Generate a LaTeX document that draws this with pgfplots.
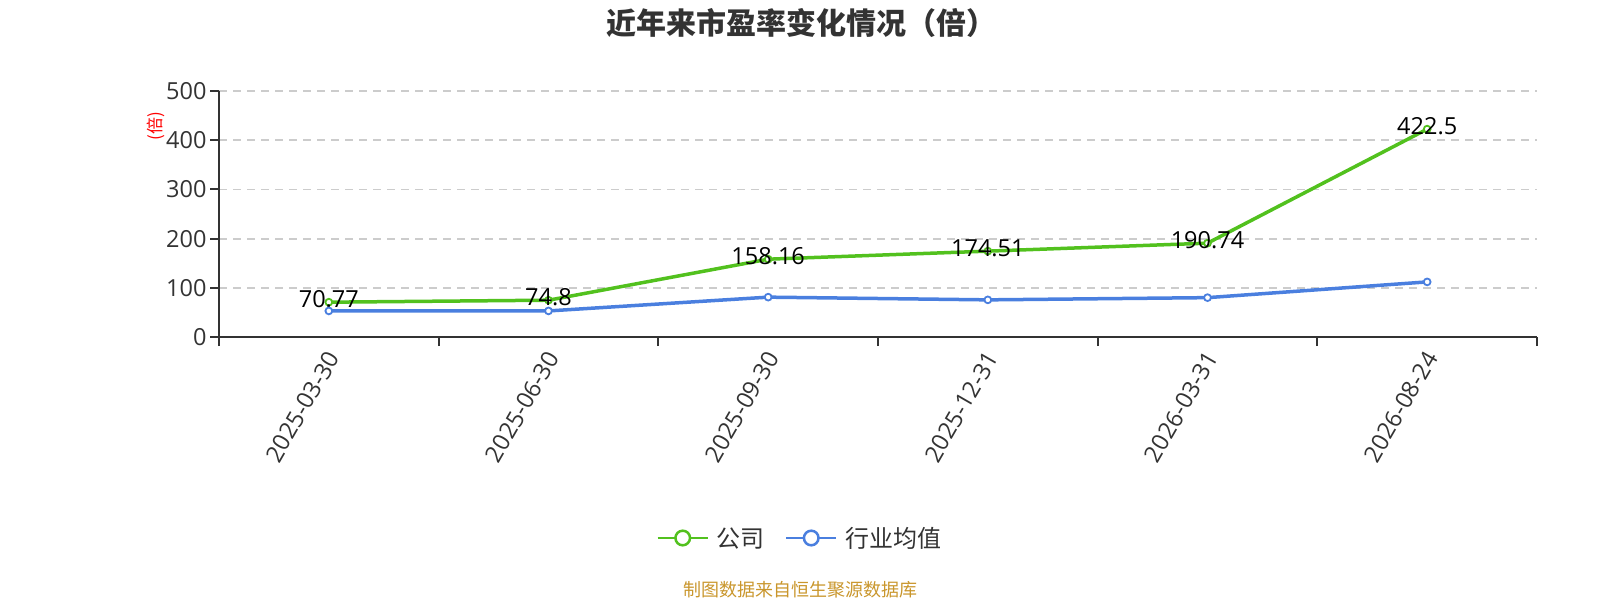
\documentclass[border=0pt]{standalone}
\usepackage{fontspec}
\setmainfont{Open Sans}
\newfontfamily\cjk{Noto Sans CJK SC}
\usepackage{pgfplots}
\pgfplotsset{compat=1.18}
\definecolor{cgreen}{HTML}{52C11E}
\definecolor{cblue}{HTML}{4A7FDF}
\definecolor{caxis}{HTML}{333333}
\definecolor{cgrid}{HTML}{CCCCCC}
\definecolor{cfoot}{HTML}{C9962C}
\definecolor{ctitle}{HTML}{333333}
\begin{document}
\begin{tikzpicture}[x=1pt,y=1pt]
\useasboundingbox (0,0) rectangle (1600,600);
\node[font=\cjk\fontsize{30}{34}\selectfont\bfseries, text=ctitle] at (801,577) {近年来市盈率变化情况（倍）};
\node[font=\cjk\fontsize{18}{20}\selectfont, text=cfoot] at (800,10) {制图数据来自恒生聚源数据库};
\begin{axis}[
  at={(219pt,263pt)}, anchor=south west,
  scale only axis, width=1318pt, height=246pt,
  xmin=-0.5, xmax=5.5, ymin=0, ymax=500,
  axis lines=left,
  axis line style={draw=caxis, line width=2pt, -},
  every tick/.style={draw=caxis, line width=2pt},
  tick align=outside, major tick length=9pt,
  ytick={0,100,200,300,400,500},
  ymajorgrids,
  grid style={draw=cgrid, line width=1.8pt, dash pattern=on 8pt off 6pt},
  /pgf/number format/assume math mode=true,
  tick label style={font=\fontsize{23.5}{28}\selectfont, text=caxis},
  xtick={-0.5,0.5,1.5,2.5,3.5,4.5,5.5},
  xticklabels={},
  extra x ticks={0,1,2,3,4,5},
  extra x tick labels={2025-03-30,2025-06-30,2025-09-30,2025-12-31,2026-03-31,2026-08-24},
  extra x tick style={major tick length=0pt, xmajorgrids=false,
    xticklabel style={xshift=4.5pt, yshift=-16.5pt, rotate=60, anchor=east, inner sep=0pt}},
  ylabel={\cjk (倍)},
  ylabel style={at={(axis description cs:-0.0478,0.858)}, anchor=center, rotate=0, text=red, font=\fontsize{17}{20}\selectfont, inner sep=0pt},
  legend style={at={(axis description cs:0.4408,-0.817)}, anchor=center, draw=none, fill=none,
    font=\cjk\fontsize{24}{28}\selectfont, text=caxis, legend columns=2,
    /tikz/every odd column/.append style={column sep=6pt},
    /tikz/every even column/.append style={column sep=18pt}},
  legend cell align=left,
  clip=false,
]
\addplot[cgreen, line width=3.5pt, mark=*, mark size=3.4pt,
  mark options={fill=white, draw=cgreen, line width=1.8pt},
  nodes near coords, point meta=explicit symbolic,
  nodes near coords style={anchor=center, yshift=3pt, font=\fontsize{23.5}{28}\selectfont, text=black, inner sep=0pt},
  legend image code/.code={\draw[cgreen, line width=2.5pt] (0pt,0pt) -- (50pt,0pt);
    \draw[cgreen, line width=2.5pt, fill=white] (25pt,0pt) circle (7.3pt);}]
coordinates {(0,70.77)[70.77] (1,74.8)[74.8] (2,158.16)[158.16] (3,174.51)[174.51] (4,190.74)[190.74] (5,422.5)[422.5]};
\addlegendentry{公司}
\addplot[cblue, line width=3.5pt, mark=*, mark size=3.4pt,
  mark options={fill=white, draw=cblue, line width=1.8pt},
  legend image code/.code={\draw[cblue, line width=2.5pt] (0pt,0pt) -- (50pt,0pt);
    \draw[cblue, line width=2.5pt, fill=white] (25pt,0pt) circle (7.3pt);}]
coordinates {(0,53) (1,53) (2,81) (3,75.5) (4,80) (5,112)};
\addlegendentry{行业均值}
\end{axis}
\end{tikzpicture}
\end{document}
